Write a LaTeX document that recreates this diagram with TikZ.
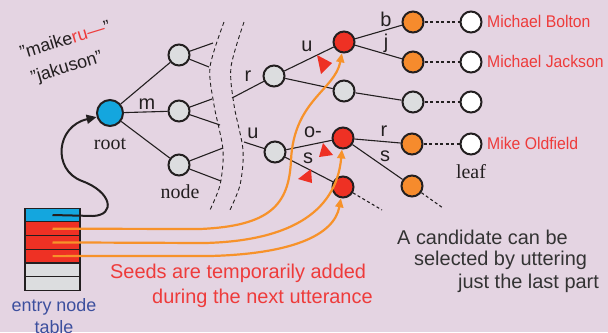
\documentclass[tikz,border=0pt]{standalone}
\usepackage{fontspec}
\setmainfont{Liberation Sans}
\newfontfamily\seriffont{Liberation Serif}
\newfontfamily\namefont[FakeStretch=0.93]{Liberation Sans}
\usetikzlibrary{arrows.meta}

\definecolor{bg}{HTML}{E4D4E2}
\definecolor{ink}{HTML}{231F20}
\definecolor{rootblue}{HTML}{14A6DE}
\definecolor{nodegray}{HTML}{DCDDDF}
\definecolor{seedred}{HTML}{EE3124}
\definecolor{candorange}{HTML}{F68B2D}
\definecolor{wire}{HTML}{F7922A}
\definecolor{namered}{HTML}{EE3B3B}
\definecolor{tableblue}{HTML}{3C4F9E}
\definecolor{note}{HTML}{333333}

\tikzset{
  trie/.style={circle, draw=ink, line width=2bp, minimum size=21bp, inner sep=0pt},
  graynode/.style={trie, fill=nodegray},
  rednode/.style={trie, fill=seedred},
  orangenode/.style={trie, fill=candorange},
  leafnode/.style={trie, fill=white},
  rootnode/.style={trie, fill=rootblue, minimum size=26bp},
  branch/.style={draw=ink, line width=1.1bp},
  tail/.style={draw=ink, line width=1.1bp, dash pattern=on 3bp off 2.5bp},
  cut/.style={draw=ink, line width=0.9bp, dash pattern=on 4bp off 3bp},
  lbl/.style={font=\fontsize{20}{20}\selectfont, text=ink, inner sep=0pt},
  seriflbl/.style={font=\seriffont\fontsize{20}{20}\selectfont, text=ink, inner sep=0pt},
  leafname/.style={font=\namefont\fontsize{17}{17}\selectfont, text=namered, inner sep=0pt, anchor=west},
  row/.style={draw=ink, line width=1.2bp, minimum width=55bp, minimum height=13.7bp, inner sep=0pt},
  seed/.style={draw=wire, line width=2.2bp, -{Triangle[length=9bp,width=8bp]}},
  marker/.style={fill=seedred, draw=none},
  caption/.style={font=\fontsize{20}{20}\selectfont, inner sep=0pt, anchor=west},
  reading/.style={font=\fontsize{18}{18}\selectfont, text=ink, inner sep=0pt},
}

\begin{document}
\begin{tikzpicture}[x=1bp, y=-1bp]
  \fill[bg] (0,0) rectangle (608,332);
  \useasboundingbox (0,0) rectangle (608,332);

  % readings of the utterance, tilted
  \node[reading] (kana1) at (65,39) {\rotatebox[origin=c]{17}{"maike\textcolor{namered}{ru---}"}};
  \node[reading] (kana2) at (67,68) {\rotatebox[origin=c]{17}{"jakuson"}};

  % trie nodes
  \node[rootnode] (root) at (110,113) {};
  \node[graynode] (n1) at (179,55) {};
  \node[graynode] (n2) at (179,111) {};
  \node[graynode] (n3) at (179,165) {};
  \node[graynode] (nr) at (274,76) {};
  \node[graynode] (nu) at (275,152) {};
  \node[rednode]  (ru) at (344,42) {};
  \node[graynode] (rx) at (344,91) {};
  \node[rednode]  (uo) at (343,138) {};
  \node[rednode]  (us) at (343,187) {};
  \node[orangenode] (cb) at (413,22) {};
  \node[orangenode] (cj) at (413,62) {};
  \node[graynode]   (cx) at (413,102) {};
  \node[orangenode] (cr) at (412,144) {};
  \node[orangenode] (cs) at (412,186) {};
  \node[leafnode] (lb) at (471,22) {};
  \node[leafnode] (lj) at (471,62) {};
  \node[leafnode] (lx) at (471,102) {};
  \node[leafnode] (lr) at (471,144) {};

  % elided part of the trie
  \draw[cut] plot[smooth] coordinates {(224,22) (210,67) (214,105) (223,150) (220,185) (209,212)};
  \draw[cut] plot[smooth] coordinates {(244,22) (231,67) (234,105) (243,150) (240,185) (229,212)};

  \coordinate (f1a) at (213,43);  \coordinate (f1b) at (209,67);
  \coordinate (f2a) at (212,99);  \coordinate (f2b) at (220,125);
  \coordinate (f3a) at (223,148); \coordinate (f3b) at (221,181);
  \coordinate (er) at (232,98);   \coordinate (eu) at (244,142);
  \coordinate (tus) at (382,210); \coordinate (tcs) at (443,208);

  % branches
  \draw[branch] (root) -- (n1);
  \draw[branch] (root) -- (n2);
  \draw[branch] (root) -- (n3);
  \draw[branch] (n1) -- (f1a);  \draw[branch] (n1) -- (f1b);
  \draw[branch] (n2) -- (f2a);  \draw[branch] (n2) -- (f2b);
  \draw[branch] (n3) -- (f3a);  \draw[branch] (n3) -- (f3b);
  \draw[branch] (er) -- (nr);
  \draw[branch] (eu) -- (nu);
  \draw[branch] (nr) -- (ru);
  \draw[branch] (nr) -- (rx);
  \draw[branch] (rx) -- (cx);
  \draw[branch] (ru) -- (cb);
  \draw[branch] (ru) -- (cj);
  \draw[branch] (nu) -- (uo);
  \draw[branch] (nu) -- (us);
  \draw[branch] (uo) -- (cr);
  \draw[branch] (uo) -- (cs);
  \draw[tail] (cb) -- (lb);
  \draw[tail] (cj) -- (lj);
  \draw[tail] (cx) -- (lx);
  \draw[tail] (cr) -- (lr);
  \draw[tail] (us) -- (tus);
  \draw[tail] (cs) -- (tcs);

  % branch labels
  \node[lbl] (lm) at (147,104) {m};
  \node[lbl] (lr1) at (248,76) {r};
  \node[lbl] (lu1) at (253,133) {u};
  \node[lbl] (lu2) at (307,46) {u};
  \node[lbl] (lbb) at (386,19) {b};
  \node[lbl] (ljj) at (386,43) {j};
  \node[lbl] (lo) at (313,132) {o-};
  \node[lbl] (ls1) at (308,158) {s};
  \node[lbl] (lr2) at (384,131) {r};
  \node[lbl] (ls2) at (385,156) {s};

  % seed markers
  \fill[marker] (317,55) -- (332,63) -- (321,74) -- cycle;
  \fill[marker] (323,143) -- (333,155) -- (319,157) -- cycle;
  \fill[marker] (311,169) -- (312,183) -- (298,179) -- cycle;

  % leaf names
  \node[leafname] (nmb) at (487,21) {Michael Bolton};
  \node[leafname] (nmj) at (487,61) {Michael Jackson};
  \node[leafname] (nmo) at (487,143) {Mike Oldfield};

  % descriptive labels
  \node[seriflbl] (troot) at (110,144) {root};
  \node[seriflbl] (tnode) at (180,192) {node};
  \node[seriflbl] (tleaf) at (471,172) {leaf};

  % entry node table
  \node[row, fill=rootblue] (r1) at (52.5,215) {};
  \node[row, fill=seedred]  (r2) at (52.5,228.7) {};
  \node[row, fill=seedred]  (r3) at (52.5,242.4) {};
  \node[row, fill=seedred]  (r4) at (52.5,256.1) {};
  \node[row, fill=nodegray] (r5) at (52.5,269.8) {};
  \node[row, fill=nodegray] (r6) at (52.5,283.5) {};
  \node[font=\fontsize{18}{22}\selectfont, text=tableblue, align=center, inner sep=0pt, anchor=north]
    (ttab) at (54,298) {entry node\\table};

  % pointer from the table to the root
  \draw[draw=ink, line width=2bp, -{Triangle[length=10bp,width=9bp]}]
    (r1.center) -- (93,216) .. controls (116,215) and (112,192) .. (82,181)
    .. controls (52,170) and (56,126) .. (root.197);

  % seeds
  \draw[seed] (r2.center) -- (200,229) .. controls (270,226) and (289,205) .. (291,160)
    .. controls (294,100) and (335,90) .. (ru);
  \draw[seed] (r3.center) -- (205,243) .. controls (285,241) and (336,215) .. (uo);
  \draw[seed] (r4.center) -- (210,256) .. controls (290,254) and (334,236) .. (us);

  % captions
  \node[caption, text=namered] (cap1) at (110,273) {Seeds are temporarily added};
  \node[caption, text=namered] (cap2) at (152,298) {during the next utterance};
  \node[caption, text=note] (note1) at (397,237) {A candidate can be};
  \node[caption, text=note] (note2) at (414,260) {selected by uttering};
  \node[caption, text=note] (note3) at (458,283) {just the last part};
\end{tikzpicture}
\end{document}
